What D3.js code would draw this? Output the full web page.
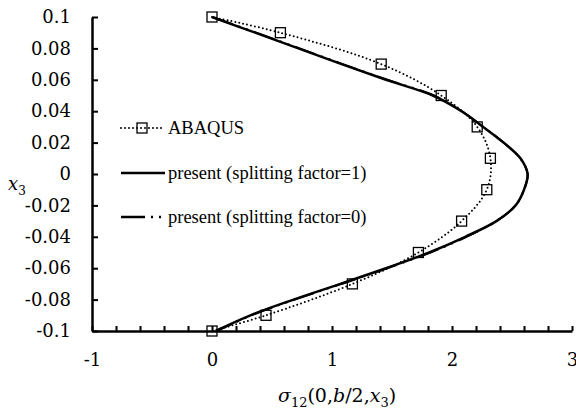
<!DOCTYPE html>
<html>
<head>
<meta charset="utf-8">
<script src="https://cdn.jsdelivr.net/npm/d3@7"></script>
<style>
body { margin: 0; background: #fff; }
</style>
</head>
<body>
<div id="chart"></div>
<script>
// ABAQUS reference points (sigma12, x3)
var abaqusX = [0, 0.57, 1.41, 1.91, 2.21, 2.32, 2.29, 2.08, 1.72, 1.17, 0.45, 0];
var abaqusY = [0.1, 0.09, 0.07, 0.05, 0.03, 0.01, -0.01, -0.03, -0.05, -0.07, -0.09, -0.1];

// present model, sampled along x3
var presentY = [0.1, 0.09, 0.08, 0.07, 0.06, 0.05, 0.04, 0.03, 0.02, 0.01, 0, -0.01, -0.02, -0.03, -0.04, -0.05, -0.06, -0.07, -0.08, -0.09, -0.1];
var present1X = [0, 0.36, 0.72, 1.08, 1.45, 1.84, 2.08, 2.26, 2.43, 2.57, 2.63, 2.60, 2.53, 2.37, 2.11, 1.81, 1.45, 1.07, 0.68, 0.32, 0.03];
var present0X = [0, 0.37, 0.73, 1.09, 1.46, 1.85, 2.08, 2.26, 2.43, 2.57, 2.63, 2.60, 2.53, 2.37, 2.12, 1.82, 1.46, 1.08, 0.69, 0.33, 0.04];

var xTicks = d3.range(-1, 3.001, 0.2);
var yTicks = d3.range(-0.1, 0.1001, 0.02);
var legendLabels = ["ABAQUS", "present (splitting factor=1)", "present (splitting factor=0)"];

var W = 576, H = 417;
var pLeft = 92, pRight = 572, pTop = 17, pBottom = 331;

var svg = d3.select("#chart").append("svg")
  .attr("width", W).attr("height", H)
  .style("font-family", "'DejaVu Serif', serif");

var x = d3.scaleLinear().domain([-1, 3]).range([pLeft, pRight]);
var y = d3.scaleLinear().domain([-0.1, 0.1]).range([pBottom, pTop]);

// x axis
var xa = svg.append("g")
  .attr("transform", "translate(0," + pBottom + ")")
  .call(d3.axisBottom(x)
    .tickValues(xTicks)
    .tickSizeInner(-5)
    .tickSizeOuter(0)
    .tickPadding(22)
    .tickFormat(function (d) {
      var r = Math.round(d * 10) / 10;
      return Math.abs(r - Math.round(r)) < 1e-6 ? String(Math.round(r)) : "";
    }));

// y axis
var ya = svg.append("g")
  .attr("transform", "translate(" + pLeft + ",0)")
  .call(d3.axisLeft(y)
    .tickValues(yTicks)
    .tickSizeInner(-6)
    .tickSizeOuter(0)
    .tickPadding(21)
    .tickFormat(function (d) { return String(Math.round(d * 100) / 100); }));

[xa, ya].forEach(function (g) {
  g.select(".domain").attr("stroke", "#000").attr("stroke-width", 2.5);
  g.selectAll(".tick line").attr("stroke", "#000").attr("stroke-width", 2);
  g.selectAll("text").attr("fill", "#000").style("font-size", "18px").style("font-family", "'DejaVu Serif', serif");
});

var line = d3.line()
  .x(function (d) { return x(d[0]); })
  .y(function (d) { return y(d[1]); })
  .curve(d3.curveCatmullRom);

var abaqus = abaqusX.map(function (v, i) { return [v, abaqusY[i]]; });
var pres1 = present1X.map(function (v, i) { return [v, presentY[i]]; });
var pres0 = present0X.map(function (v, i) { return [v, presentY[i]]; });

svg.append("path").datum(pres1)
  .attr("d", line)
  .attr("fill", "none").attr("stroke", "#000").attr("stroke-width", 2.5);

svg.append("path").datum(pres0)
  .attr("d", line)
  .attr("fill", "none").attr("stroke", "#000").attr("stroke-width", 2)
  .attr("stroke-dasharray", "22,6,2,6,2,6");

svg.append("path").datum(abaqus)
  .attr("d", line)
  .attr("fill", "none").attr("stroke", "#000").attr("stroke-width", 2)
  .attr("stroke-linecap", "round")
  .attr("stroke-dasharray", "0,4");

svg.selectAll("rect.mk")
  .data(abaqus)
  .enter()
  .append("rect")
  .attr("class", "mk")
  .attr("x", function (d) { return x(d[0]) - 5; })
  .attr("y", function (d) { return y(d[1]) - 5; })
  .attr("width", 10).attr("height", 10)
  .attr("fill", "none").attr("stroke", "#000").attr("stroke-width", 1.3);

// legend
var legY = [128, 173, 217];
var lg = svg.append("g");
lg.append("line").attr("x1", 121).attr("x2", 163).attr("y1", legY[0]).attr("y2", legY[0])
  .attr("stroke", "#000").attr("stroke-width", 2).attr("stroke-linecap", "round").attr("stroke-dasharray", "0,4");
lg.append("rect").attr("x", 137).attr("y", legY[0] - 5).attr("width", 10).attr("height", 10)
  .attr("fill", "none").attr("stroke", "#000").attr("stroke-width", 1.3);
lg.append("line").attr("x1", 121).attr("x2", 165).attr("y1", legY[1]).attr("y2", legY[1])
  .attr("stroke", "#000").attr("stroke-width", 2.5);
lg.append("line").attr("x1", 121).attr("x2", 165).attr("y1", legY[2]).attr("y2", legY[2])
  .attr("stroke", "#000").attr("stroke-width", 2.5).attr("stroke-dasharray", "24,6,2,6,2,6");
lg.selectAll("text")
  .data(legendLabels)
  .enter()
  .append("text")
  .attr("x", 168)
  .attr("y", function (d, i) { return legY[i] + 6; })
  .style("font-family", "'Liberation Serif', serif")
  .style("font-size", "18.5px")
  .text(function (d) { return d; });

// axis titles
var xt = svg.append("text")
  .attr("x", 337).attr("y", 402)
  .attr("text-anchor", "middle")
  .style("font-size", "19px");
xt.append("tspan").style("font-style", "italic").text("σ");
xt.append("tspan").attr("dy", 5).style("font-size", "13px").text("12");
xt.append("tspan").attr("dy", -5).text("(0,");
xt.append("tspan").style("font-style", "italic").text("b");
xt.append("tspan").text("/2,");
xt.append("tspan").style("font-style", "italic").text("x");
xt.append("tspan").attr("dy", 5).style("font-size", "13px").text("3");
xt.append("tspan").attr("dy", -5).text(")");

var yt = svg.append("text")
  .attr("x", 8).attr("y", 190)
  .style("font-size", "18px");
yt.append("tspan").style("font-style", "italic").text("x");
yt.append("tspan").attr("dy", 5).style("font-size", "12px").text("3");
</script>
</body>
</html>
